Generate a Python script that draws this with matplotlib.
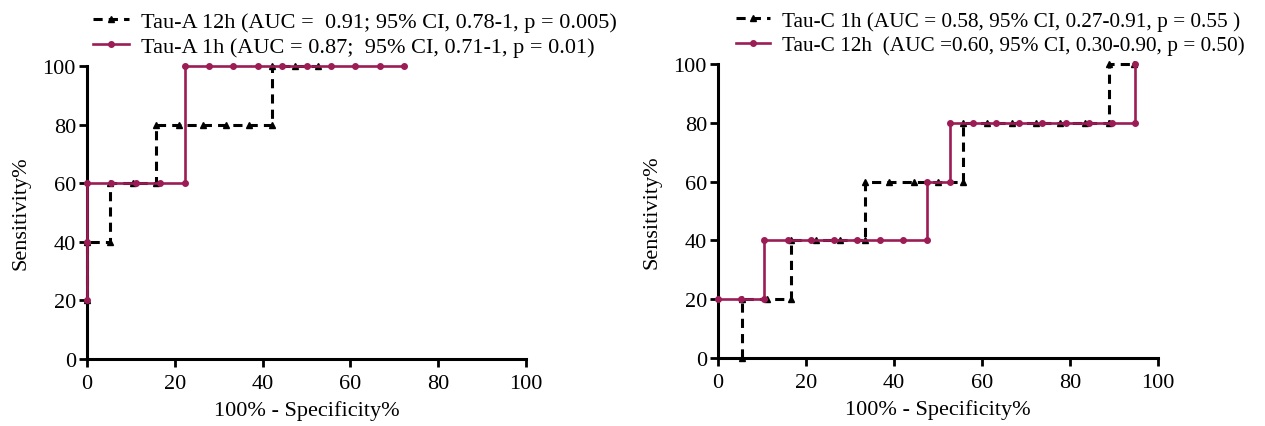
import matplotlib
matplotlib.use('Agg')
import matplotlib.pyplot as plt

plt.rcParams['font.family'] = ['Liberation Serif', 'DejaVu Serif']

# Tau-A, left panel
tauA_12h_x = [0, 0, 5.26, 5.26, 10.53, 15.79, 15.79, 21.05, 26.32, 31.58, 36.84, 42.11, 42.11, 47.37, 52.63]
tauA_12h_y = [20, 40, 40, 60, 60, 60, 80, 80, 80, 80, 80, 80, 100, 100, 100]
tauA_1h_x = [0, 0, 0, 5.56, 11.11, 16.67, 22.22, 22.22, 27.78, 33.33, 38.89, 44.44, 50.0, 55.56, 61.11, 66.67, 72.22]
tauA_1h_y = [20, 40, 60, 60, 60, 60, 60, 100, 100, 100, 100, 100, 100, 100, 100, 100, 100]

# Tau-C, right panel
tauC_1h_x = [5.56, 5.56, 11.11, 16.67, 16.67, 22.22, 27.78, 33.33, 33.33, 38.89, 44.44, 50.0, 55.56,
             55.56, 61.11, 66.67, 72.22, 77.78, 83.33, 88.89, 88.89, 94.44]
tauC_1h_y = [0, 20, 20, 20, 40, 40, 40, 40, 60, 60, 60, 60, 60,
             80, 80, 80, 80, 80, 80, 80, 100, 100]
tauC_12h_x = [0, 5.26, 10.53, 10.53, 15.79, 21.05, 26.32, 31.58, 36.84, 42.11, 47.37, 47.37, 52.63,
              52.63, 57.89, 63.16, 68.42, 73.68, 78.95, 84.21, 89.47, 94.74, 94.74]
tauC_12h_y = [20, 20, 20, 40, 40, 40, 40, 40, 40, 40, 40, 60, 60,
              80, 80, 80, 80, 80, 80, 80, 80, 80, 100]

labels_A = ['Tau-A 12h (AUC =  0.91; 95% CI, 0.78-1, p = 0.005)',
            'Tau-A 1h (AUC = 0.87;  95% CI, 0.71-1, p = 0.01)']
labels_C = ['Tau-C 1h (AUC = 0.58, 95% CI, 0.27-0.91, p = 0.55 )',
            'Tau-C 12h  (AUC =0.60, 95% CI, 0.30-0.90, p = 0.50)']

ticks = [0, 20, 40, 60, 80, 100]
red = '#9c1d55'
fs = 16

fig = plt.figure(figsize=(12.65, 4.27), dpi=100)
axL = fig.add_axes([0.0688, 0.157, 0.347, 0.686])
axR = fig.add_axes([0.5676, 0.159, 0.348, 0.689])


def draw(ax, xb, yb, xr, yr, labels, leg_x, leg_fs):
    ax.plot(xb, yb, color='black', lw=2.2, ls=(0, (3.0, 2.0)), marker='^', ms=4,
            label=labels[0], clip_on=False, zorder=3)
    ax.plot(xr, yr, color=red, lw=1.9, marker='o', ms=4,
            label=labels[1], clip_on=False, zorder=4)
    ax.set_xlim(0, 100)
    ax.set_ylim(0, 100)
    ax.set_xticks(ticks)
    ax.set_yticks(ticks)
    for s in ['top', 'right']:
        ax.spines[s].set_visible(False)
    for s in ['left', 'bottom']:
        ax.spines[s].set_linewidth(2.2)
    ax.tick_params(width=2, length=6, labelsize=fs, direction='out', pad=2)
    ax.tick_params(axis='x', pad=5)
    ax.set_xlabel('100% - Specificity%', fontsize=fs, labelpad=5)
    ax.set_ylabel('Sensitivity%', fontsize=fs, labelpad=9)
    ax.legend(loc='lower left', bbox_to_anchor=(leg_x, 1.03), frameon=False, fontsize=leg_fs,
              handlelength=1.6, handletextpad=0.55, labelspacing=0.22, borderaxespad=0,
              borderpad=0)


draw(axL, tauA_12h_x, tauA_12h_y, tauA_1h_x, tauA_1h_y, labels_A, 0.014, 16)
draw(axR, tauC_1h_x, tauC_1h_y, tauC_12h_x, tauC_12h_y, labels_C, 0.041, 15.3)

fig.savefig('out.png', dpi=100)
